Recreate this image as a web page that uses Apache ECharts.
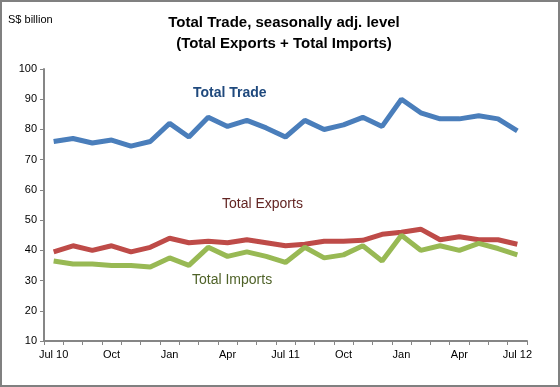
<!DOCTYPE html>
<html>
<head>
<meta charset="utf-8">
<script src="https://cdn.jsdelivr.net/npm/echarts@6/dist/echarts.min.js"></script>
<style>
html,body{margin:0;padding:0;background:#fff;}
#c{width:560px;height:387px;}
</style>
</head>
<body>
<div id="c"></div>
<script>
const categories = ["Jul 10","Aug","Sep","Oct","Nov","Dec","Jan","Feb","Mar","Apr","May","Jun",
  "Jul 11","Aug","Sep","Oct","Nov","Dec","Jan","Feb","Mar","Apr","May","Jun","Jul 12"];
const totalTrade = [76,77,75.5,76.5,74.5,76,82,77.5,84,81,83,80.5,77.5,83,80,81.5,84,81,90,85.5,83.5,83.5,84.5,83.5,79.5];
const totalExports = [39.5,41.5,40,41.5,39.5,41,44,42.5,43,42.5,43.5,42.5,41.5,42,43,43,43.3,45.3,46,47,43.5,44.5,43.5,43.5,42];
const totalImports = [36.5,35.5,35.5,35,35,34.5,37.5,35,41,38,39.5,38,36,41,37.5,38.5,41.5,36.5,45,40,41.5,40,42.3,40.6,38.5];
const yTicks = {min:10, max:100, interval:10};

const chart = echarts.init(document.getElementById('c'), null, {renderer:'canvas'});
const font = 'Liberation Sans, Arial, sans-serif';
chart.setOption({
  animation:false,
  backgroundColor:'#fff',
  grid:{left:44, right:33, top:69, bottom:46, containLabel:false},
  xAxis:{
    type:'category', data:categories, boundaryGap:true,
    axisLine:{lineStyle:{color:'#868686', width:2}},
    axisTick:{show:true, interval:0, length:4, lineStyle:{color:'#868686', width:1}},
    axisLabel:{interval:2, color:'#000', fontFamily:font, fontSize:11, margin:8},
    splitLine:{show:false}
  },
  yAxis:{
    type:'value', min:yTicks.min, max:yTicks.max, interval:yTicks.interval,
    axisLine:{show:true, lineStyle:{color:'#868686', width:2}},
    axisTick:{show:true, length:4, lineStyle:{color:'#868686', width:1}},
    axisLabel:{color:'#000', fontFamily:font, fontSize:11, margin:7},
    splitLine:{show:false}
  },
  series:[
    {name:'Total Trade', type:'line', data:totalTrade, symbol:'none', lineStyle:{color:'#4a7ebb', width:5}, z:3},
    {name:'Total Exports', type:'line', data:totalExports, symbol:'none', lineStyle:{color:'#be4b48', width:5}, z:2},
    {name:'Total Imports', type:'line', data:totalImports, symbol:'none', lineStyle:{color:'#98b954', width:5}, z:3}
  ],
  graphic:[
    {type:'rect', shape:{x:1, y:1, width:558, height:385}, style:{fill:'none', stroke:'#808080', lineWidth:2}, silent:true},
    {type:'text', left:8, top:14, style:{text:'S$ billion', font:'11px '+font, fill:'#000'}},
    {type:'text', x:284, y:12, style:{text:'Total Trade, seasonally adj. level\n(Total Exports + Total Imports)', font:'bold 15px '+font, fill:'#000', align:'center', lineHeight:21}},
    {type:'text', x:193, y:86, style:{text:'Total Trade', font:'bold 14px '+font, fill:'#1f497d'}},
    {type:'text', x:222, y:197, style:{text:'Total Exports', font:'14px '+font, fill:'#632523'}},
    {type:'text', x:192, y:273, style:{text:'Total Imports', font:'14px '+font, fill:'#4f6228'}}
  ]
});
</script>
</body>
</html>
